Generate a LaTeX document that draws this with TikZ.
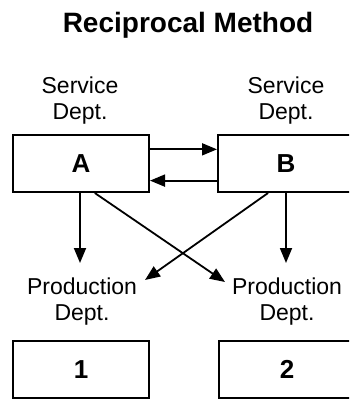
\documentclass[tikz,border=0pt]{standalone}
\usepackage{fontspec}
\setmainfont{Liberation Sans}
\usetikzlibrary{arrows.meta,calc}
\begin{document}
\begin{tikzpicture}[x=1pt,y=-1pt,
  box/.style={draw,line width=2pt,minimum width=136pt,minimum height=57pt,
    inner sep=0pt,font=\fontsize{26}{26}\selectfont\bfseries},
  lbl/.style={anchor=base,align=center,inner sep=0pt,
    font=\fontsize{23}{26}\selectfont},
  arr/.style={line width=1.8pt,-{Triangle[length=15pt,width=12pt]}}]
\useasboundingbox (0,0) rectangle (349,399);
\clip (0,0) rectangle (349,399);

% title
\node[anchor=base,inner sep=0pt,font=\fontsize{28}{28}\selectfont\bfseries]
  (title) at (188,32) {Reciprocal Method};

% department labels (base anchor sits on the second line)
\node[lbl] (sA) at (80,119) {Service\\Dept.};
\node[lbl] (sB) at (286,119) {Service\\Dept.};
\node[lbl] (p1) at (82,320) {Production\\Dept.};
\node[lbl] (p2) at (287,320) {Production\\Dept.};

% department boxes
\node[box] (A) at (81,163.5) {A};
\node[box] (B) at (286,163.5) {B};
\node[box] (P1) at (81,369.5) {1};
\node[box] (P2) at (287,369.5) {2};

% arrow ends above the production labels
\coordinate (t1) at (80,263);
\coordinate (t2) at (286,263);
\coordinate (x1) at (145,280);
\coordinate (x2) at (225,282);

% reciprocal services between A and B
\draw[arr] ($(A.north east)!0.26!(A.south east)$) -- ($(B.north west)!0.26!(B.south west)$);
\draw[arr] ($(B.north west)!0.79!(B.south west)$) -- ($(A.north east)!0.79!(A.south east)$);

% allocation to production departments
\draw[arr] (A.south -| t1) -- (t1);
\draw[arr] (B.south -| t2) -- (t2);
\draw[arr] ($(A.south west)!0.6!(A.south east)$) -- (x2);
\draw[arr] ($(B.south west)!0.37!(B.south east)$) -- (x1);
\end{tikzpicture}
\end{document}
